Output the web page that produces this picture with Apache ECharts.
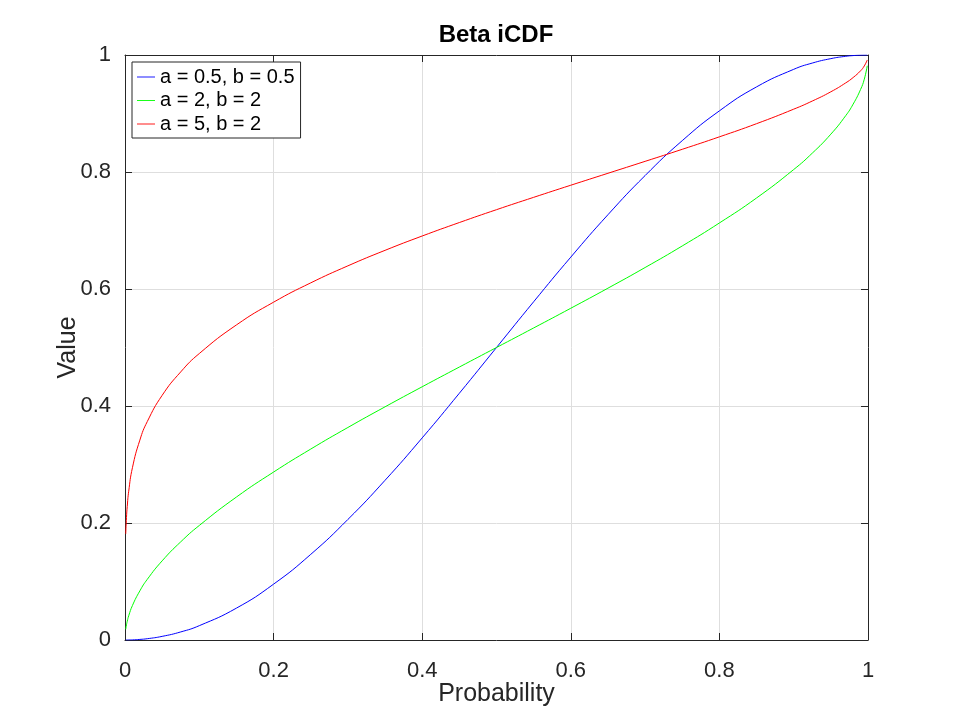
<!DOCTYPE html>
<html>
<head>
<meta charset="utf-8">
<script src="https://cdn.jsdelivr.net/npm/echarts@6/dist/echarts.min.js"></script>
<style>html,body{margin:0;padding:0;background:#fff}#c{width:960px;height:720px}</style>
</head>
<body>
<div id="c"></div>
<script>
const probability = [0.001,0.002,0.003,0.005,0.01,0.02,0.03,0.05,0.075,0.1,0.15,0.2,0.25,0.3,0.35,0.4,0.45,0.5,0.55,0.6,0.65,0.7,0.75,0.8,0.85,0.9,0.925,0.95,0.97,0.98,0.99,0.995,0.999];
const valueA05B05 = [0.0000,0.0000,0.0000,0.0001,0.0002,0.0010,0.0022,0.0062,0.0138,0.0245,0.0545,0.0955,0.1464,0.2061,0.2730,0.3455,0.4218,0.5000,0.5782,0.6545,0.7270,0.7939,0.8536,0.9045,0.9455,0.9755,0.9862,0.9938,0.9978,0.9990,0.9998,0.9999,1.0000];
const valueA2B2 = [0.0184,0.0260,0.0319,0.0414,0.0589,0.0840,0.1037,0.1353,0.1678,0.1958,0.2444,0.2871,0.3264,0.3633,0.3986,0.4329,0.4666,0.5000,0.5334,0.5671,0.6014,0.6367,0.6736,0.7129,0.7556,0.8042,0.8322,0.8647,0.8963,0.9160,0.9411,0.9586,0.9816];
const valueA5B2 = [0.1814,0.2095,0.2281,0.2543,0.2945,0.3417,0.3734,0.4182,0.4583,0.4897,0.5386,0.5775,0.6105,0.6396,0.6661,0.6906,0.7136,0.7356,0.7567,0.7774,0.7978,0.8182,0.8388,0.8601,0.8826,0.9074,0.9213,0.9371,0.9523,0.9615,0.9730,0.9813,0.9915];
const seriesNames = ['a = 0.5, b = 0.5','a = 2, b = 2','a = 5, b = 2'];
const seriesColors = ['#0000ff','#00ff00','#ff0000'];
const xTicks = [0,0.2,0.4,0.6,0.8,1];
const yTicks = [0,0.2,0.4,0.6,0.8,1];

const FONT = '"Liberation Sans", Arial, Helvetica, sans-serif';
const TXT = '#262626';
const fmt = v => (v === 0 ? '0' : v === 1 ? '1' : String(v));
const zip = ys => probability.map((p, i) => [p, ys[i]]);
const allY = [valueA05B05, valueA2B2, valueA5B2];

const chart = echarts.init(document.getElementById('c'), null, {renderer: 'canvas'});
const axisCommon = {
  type: 'value', min: 0, max: 1, interval: 0.2,
  axisLine: {show: true, onZero: false, lineStyle: {color: TXT, width: 1}},
  axisTick: {show: true, inside: true, length: 7, lineStyle: {color: TXT}},
};
chart.setOption({
  animation: false,
  backgroundColor: '#ffffff',
  textStyle: {fontFamily: FONT},
  title: {
    text: 'Beta iCDF', left: 496, top: 23, textAlign: 'center', padding: 0,
    textStyle: {fontFamily: FONT, fontSize: 24, fontWeight: 'bold', color: '#000'}
  },
  legend: {
    orient: 'vertical', left: 132, top: 62,
    backgroundColor: '#ffffff', borderColor: TXT, borderWidth: 1, borderRadius: 0,
    padding: [5, 6, 4, 5], itemGap: 3.5, itemWidth: 18, itemHeight: 12,
    textStyle: {fontFamily: FONT, fontSize: 20, color: '#000'},
    data: seriesNames.map(n => ({name: n, icon: 'path://M0,5 L20,5 L20,6 L0,6 Z'}))
  },
  grid: {left: 125, right: 92, top: 55, bottom: 80, containLabel: false},
  xAxis: [
    Object.assign({}, axisCommon, {
      position: 'bottom',
      name: 'Probability', nameLocation: 'middle', nameGap: 42, nameMoveOverlap: false,
      nameTextStyle: {fontFamily: FONT, fontSize: 25, color: TXT},
      axisLabel: {show: true, margin: 20, fontFamily: FONT, fontSize: 22, color: TXT, formatter: fmt,
        customValues: xTicks},
      splitLine: {show: true, lineStyle: {color: '#dedede', width: 1}}
    }),
    Object.assign({}, axisCommon, {
      position: 'top', axisLabel: {show: false}, splitLine: {show: false}
    })
  ],
  yAxis: [
    Object.assign({}, axisCommon, {
      position: 'left',
      name: 'Value', nameLocation: 'middle', nameGap: 44, nameRotate: 90, nameMoveOverlap: false,
      nameTextStyle: {fontFamily: FONT, fontSize: 25, color: TXT},
      axisLabel: {show: true, margin: 14, fontFamily: FONT, fontSize: 22, color: TXT, formatter: fmt,
        customValues: yTicks},
      splitLine: {show: true, lineStyle: {color: '#dedede', width: 1}}
    }),
    Object.assign({}, axisCommon, {
      position: 'right', axisLabel: {show: false}, splitLine: {show: false}
    })
  ],
  series: seriesNames.map((n, i) => ({
    name: n, type: 'line', xAxisIndex: 0, yAxisIndex: 0,
    data: zip(allY[i]), showSymbol: false, symbol: 'none', smooth: 0.5,
    lineStyle: {color: seriesColors[i], width: 1}, itemStyle: {color: seriesColors[i]},
    clip: true, z: 3
  }))
});
</script>
</body>
</html>
